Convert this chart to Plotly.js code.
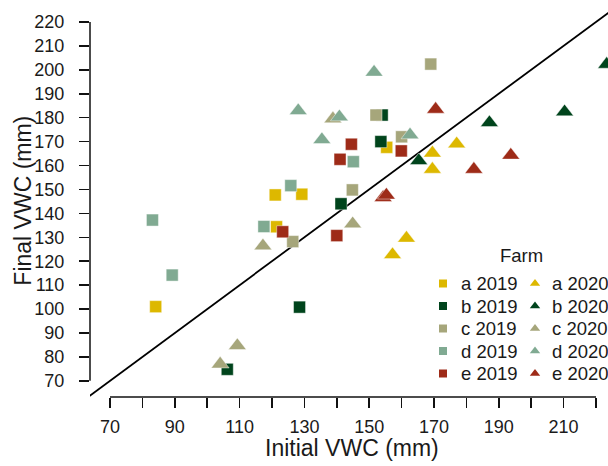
<!DOCTYPE html>
<html>
<head>
<meta charset="utf-8">
<script src="https://cdn.plot.ly/plotly-3.0.1.min.js"></script>
<style>
  html, body { margin: 0; padding: 0; background: #fff; }
  #chart { width: 608px; height: 466px; }
</style>
</head>
<body>
<div id="chart"></div>
<script>
// Initial vs final volumetric water content by farm and season
const farms = ['a', 'b', 'c', 'd', 'e'];
const years = ['2019', '2020'];
const farmColors = ['#DDB800', '#00441C', '#A6A67B', '#80AA92', '#9E2B18'];

// 2019 (squares)
const a2019Initial = [84.1, 121.4, 121.0, 129.2, 155.4];
const a2019Final   = [101.0, 134.4, 147.7, 148.0, 167.6];
const b2019Initial = [106.2, 128.5, 141.3, 153.6, 154.0];
const b2019Final   = [74.8, 100.8, 144.0, 170.0, 181.1];
const c2019Initial = [126.4, 144.8, 152.1, 160.0, 169.0];
const c2019Final   = [128.2, 149.8, 181.1, 172.0, 202.4];
const d2019Initial = [83.1, 89.2, 117.5, 125.8, 145.1];
const d2019Final   = [137.2, 114.2, 134.5, 151.6, 161.6];
const e2019Initial = [123.3, 140.0, 141.0, 144.5, 159.9];
const e2019Final   = [132.3, 130.7, 162.6, 168.9, 166.1];

// 2020 (triangles)
const a2020Initial = [157.2, 161.5, 169.5, 169.5, 177.0];
const a2020Final   = [122.7, 129.6, 158.4, 165.2, 169.0];
const b2020Initial = [165.3, 187.1, 210.3, 223.3];
const b2020Final   = [162.0, 177.9, 182.4, 202.3];
const c2020Initial = [104.0, 109.3, 117.2, 138.8, 144.9];
const c2020Final   = [77.0, 84.7, 126.4, 179.5, 135.6];
const d2020Initial = [128.1, 135.4, 140.8, 151.5, 162.6];
const d2020Final   = [182.9, 170.8, 180.3, 199.0, 172.8];
const e2020Initial = [154.3, 155.3, 170.5, 182.3, 193.7];
const e2020Final   = [146.6, 147.6, 183.5, 158.4, 164.3];

// Axis ticks
const xTickVals = [70, 80, 90, 100, 110, 120, 130, 140, 150, 160, 170, 180, 190, 200, 210, 220];
const xTickText = ['70', '', '90', '', '110', '', '130', '', '150', '', '170', '', '190', '', '210', ''];
const yTickVals = [70, 80, 90, 100, 110, 120, 130, 140, 150, 160, 170, 180, 190, 200, 210, 220];
const yTickText = ['70', '80', '90', '100', '110', '120', '130', '140', '150', '160', '170', '180', '190', '200', '210', '220'];

// 1:1 reference line
const oneToOne = [60, 230];

const series = {
  '2019': [[a2019Initial, a2019Final], [b2019Initial, b2019Final], [c2019Initial, c2019Final],
           [d2019Initial, d2019Final], [e2019Initial, e2019Final]],
  '2020': [[a2020Initial, a2020Final], [b2020Initial, b2020Final], [c2020Initial, c2020Final],
           [d2020Initial, d2020Final], [e2020Initial, e2020Final]]
};
const symbols = { '2019': 'square', '2020': 'triangle-up' };
const sizes = { '2019': 12, '2020': 15.5 };

const FONT = 'Liberation Sans, Arial, Helvetica, sans-serif';
const INK = '#1a1a1a';

const traces = [];
traces.push({
  x: oneToOne, y: oneToOne, mode: 'lines', type: 'scatter',
  line: { color: '#000', width: 1.8 }, hoverinfo: 'skip', showlegend: false
});

years.forEach(yr => {
  farms.forEach((f, i) => {
    const [xs, ys] = series[yr][i];
    traces.push({
      x: xs, y: ys, type: 'scatter', mode: 'markers', name: f + ' ' + yr,
      showlegend: false,
      marker: {
        symbol: symbols[yr], size: sizes[yr], color: farmColors[i],
        line: { color: 'rgba(255,255,255,0.55)', width: 0.8 }
      }
    });
  });
});

// Key: two columns (2019 squares, 2020 triangles), drawn on a pixel-scaled overlay
const keyCols = [
  { yr: '2019', markerX: 443, textX: 460, size: 8 },
  { yr: '2020', markerX: 535, textX: 551, size: 9 }
];
const keyRow0 = 283.5, keyRowGap = 22.5;
const annotations = [];
keyCols.forEach(col => {
  const ys = farms.map((f, i) => keyRow0 + i * keyRowGap);
  traces.push({
    x: farms.map(() => col.markerX), y: ys, xaxis: 'x2', yaxis: 'y2',
    type: 'scatter', mode: 'markers', showlegend: false, hoverinfo: 'skip', cliponaxis: false,
    marker: { symbol: symbols[col.yr], size: col.size, color: farmColors }
  });
  farms.forEach((f, i) => {
    annotations.push({
      xref: 'x2', yref: 'y2', x: col.textX, y: ys[i], xanchor: 'left', yanchor: 'middle',
      text: f + ' ' + col.yr, showarrow: false, borderpad: 0,
      font: { family: FONT, size: 18.5, color: INK }
    });
  });
});
annotations.push({
  xref: 'x2', yref: 'y2', x: 521, y: 255, xanchor: 'center', yanchor: 'middle',
  text: 'Farm', showarrow: false, font: { family: FONT, size: 18.5, color: INK }
});

// Axis titles
annotations.push({
  xref: 'paper', yref: 'paper', x: 0.5058, y: -0.132, xanchor: 'center', yanchor: 'middle',
  text: 'Initial VWC (mm)', showarrow: false, borderpad: 0, font: { family: FONT, size: 23, color: INK }
});
annotations.push({
  xref: 'paper', yref: 'y2', x: -0.13, y: 201, xanchor: 'center', yanchor: 'middle',
  textangle: -90, text: 'Final VWC (mm)', showarrow: false, font: { family: FONT, size: 23, color: INK }
});

const axisCommon = {
  showgrid: false, zeroline: false, showline: false,
  ticks: 'outside', ticklen: 10, tickwidth: 1.5, tickcolor: '#111',
  tickfont: { family: FONT, size: 18, color: INK }, tickmode: 'array'
};

const layout = {
  width: 608, height: 466,
  margin: { l: 90, r: 0, t: 8, b: 69 },
  paper_bgcolor: '#fff', plot_bgcolor: '#fff',
  showlegend: false,
  xaxis: Object.assign({}, axisCommon, {
    range: [63.83, 223.70], tickvals: xTickVals, ticktext: xTickText, ticklabelstandoff: 3
  }),
  yaxis: Object.assign({}, axisCommon, {
    range: [63.23, 225.85], tickvals: yTickVals, ticktext: yTickText, ticklabelstandoff: 11
  }),
  xaxis2: { overlaying: 'x', range: [90, 608], visible: false, fixedrange: true },
  yaxis2: { overlaying: 'y', range: [397, 8], visible: false, fixedrange: true },
  shapes: [
    { type: 'line', xref: 'x', yref: 'paper', x0: xTickVals[0], x1: xTickVals[xTickVals.length - 1],
      y0: 0, y1: 0, line: { color: '#111', width: 1.5 } },
    { type: 'line', xref: 'paper', yref: 'y', x0: 0, x1: 0, y0: yTickVals[0],
      y1: yTickVals[yTickVals.length - 1], line: { color: '#111', width: 1.5 } }
  ],
  annotations: annotations
};

Plotly.newPlot('chart', traces, layout, { staticPlot: true, displayModeBar: false });
</script>
</body>
</html>
